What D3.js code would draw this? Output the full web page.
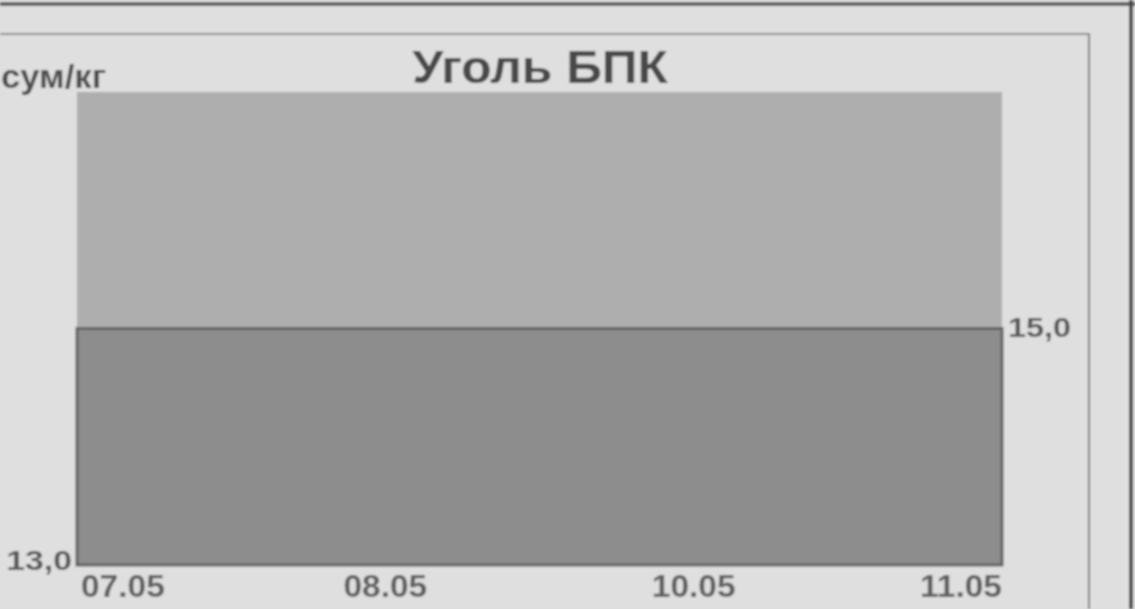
<!DOCTYPE html>
<html>
<head>
<meta charset="utf-8">
<script src="https://cdn.jsdelivr.net/npm/d3@7"></script>
<style>
  html, body { margin: 0; padding: 0; background: #dedede; }
  svg { display: block; }
</style>
</head>
<body>
<div id="chart"></div>
<script>
// data
const days = ["07.05", "08.05", "10.05", "11.05"];
const upperBand = [17.0, 17.0, 17.0, 17.0];
const price = [15.0, 15.0, 15.0, 15.0];
const yTicks = [13.0];

const width = 1135;
const height = 609;
const margin = {left: 77, right: 133, top: 92, bottom: 44};

const ru = d3.formatLocale({decimal: ",", thousands: " ", grouping: [3], currency: ["", " сум"]});
const fmt = ru.format(".1f");

const svg = d3.select("#chart")
  .append("svg")
  .attr("width", width)
  .attr("height", height)
  .attr("viewBox", [0, 0, width, height])
  .style("font-family", "'Liberation Sans', Arial, sans-serif");

// soft scan look
svg.append("defs").append("filter")
  .attr("id", "soft")
  .append("feGaussianBlur")
  .attr("stdDeviation", 0.8);

const g = svg.append("g").attr("filter", "url(#soft)");

g.append("rect")
  .attr("width", width).attr("height", height)
  .attr("fill", "#dfdfdf");

// frames
g.append("line").attr("x1", 0).attr("x2", width).attr("y1", 4).attr("y2", 4)
  .attr("stroke", "#5e5e5e").attr("stroke-width", 4);
g.append("line").attr("x1", 1131).attr("x2", 1131).attr("y1", 0).attr("y2", height)
  .attr("stroke", "#4a4a4a").attr("stroke-width", 4);
g.append("line").attr("x1", 0).attr("x2", 1090).attr("y1", 34).attr("y2", 34)
  .attr("stroke", "#8a8a8a").attr("stroke-width", 2);
g.append("line").attr("x1", 1089).attr("x2", 1089).attr("y1", 34).attr("y2", height)
  .attr("stroke", "#7a7a7a").attr("stroke-width", 2);

const x = d3.scalePoint()
  .domain(days)
  .range([margin.left, width - margin.right]);

const y = d3.scaleLinear()
  .domain([13, 17])
  .range([height - margin.bottom, margin.top]);

const upperArea = d3.area()
  .x((d, i) => x(days[i]))
  .y0((d, i) => y(price[i]))
  .y1(d => y(d));

const lowerArea = d3.area()
  .x((d, i) => x(days[i]))
  .y0(y(13))
  .y1(d => y(d));

g.append("path")
  .datum(upperBand)
  .attr("d", upperArea)
  .attr("fill", "#aeaeae");

g.append("path")
  .datum(price)
  .attr("d", lowerArea)
  .attr("fill", "#8d8d8d")
  .attr("stroke", "#646464")
  .attr("stroke-width", 3);

// text stretched sideways like the scan
function label(px, py, sx, txt) {
  return g.append("text")
    .attr("transform", `translate(${px},${py}) scale(${sx},1)`)
    .attr("font-weight", "bold")
    .text(txt);
}

// title and unit
label(540, 83, 1.08, "Уголь БПК")
  .attr("text-anchor", "middle")
  .attr("font-size", 46)
  .attr("fill", "#4a4a4a");

label(1, 88, 1.05, "сум/кг")
  .attr("font-size", 33)
  .attr("fill", "#4d4d4d");

// left value axis
yTicks.forEach(v => {
  label(margin.left - 5, y(v) + 5, 1.25, fmt(v))
    .attr("text-anchor", "end")
    .attr("font-size", 27)
    .attr("fill", "#595959");
});

// last value label on the right
label(x(days[days.length - 1]) + 6, y(price[price.length - 1]) + 8, 1.2, fmt(price[price.length - 1]))
  .attr("font-size", 27)
  .attr("fill", "#595959");

// date labels
days.forEach((d, i) => {
  label(x(d) + (i === 0 ? 4 : 0), 597, 1.08, d)
    .attr("text-anchor", i === 0 ? "start" : (i === days.length - 1 ? "end" : "middle"))
    .attr("font-size", 31)
    .attr("fill", "#5e5e5e");
});
</script>
</body>
</html>
